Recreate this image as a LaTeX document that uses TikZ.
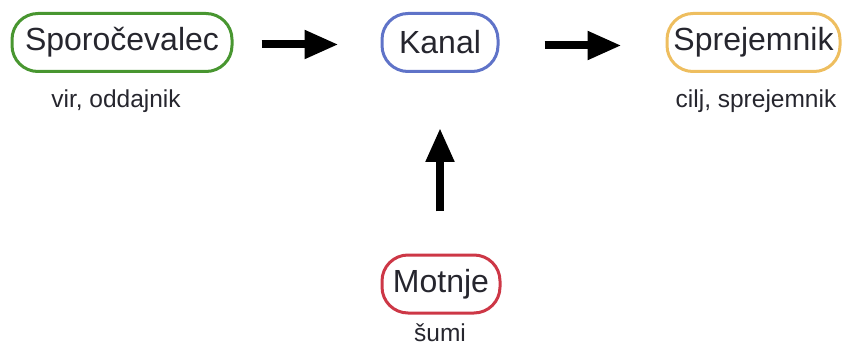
\documentclass[tikz,border=0pt]{standalone}
\usepackage{fontspec}
\setmainfont{Liberation Sans}
\usetikzlibrary{arrows.meta}
\definecolor{cgreen}{RGB}{72,150,48}
\definecolor{cblue}{RGB}{95,115,200}
\definecolor{cyellow}{RGB}{238,190,95}
\definecolor{cred}{RGB}{205,55,70}
\definecolor{ctext}{RGB}{38,38,46}
\tikzset{
  box/.style={draw, line width=3pt, rounded corners=26pt, inner sep=0pt,
    minimum height=58pt, text=ctext, font=\fontsize{32}{38}\selectfont},
  sub/.style={text=ctext, font=\fontsize{24.5}{29}\selectfont, inner sep=0pt},
  arr/.style={line width=8pt, -{Triangle[length=34pt,width=27pt]}, black}
}
\begin{document}
\begin{tikzpicture}[x=1pt,y=-1pt]
\useasboundingbox (0,0) rectangle (845,347);
\node[box, draw=cgreen, minimum width=220pt] (s) at (122,42.5) {Sporočevalec};
\node[box, draw=cblue, minimum width=116pt] (k) at (440,42.5) {Kanal};
\node[box, draw=cyellow, minimum width=173pt] (r) at (753.5,42.5) {Sprejemnik};
\node[box, draw=cred, minimum width=118pt] (m) at (441,284) {Motnje};
\node[sub] (sl) at (116,101) {vir, oddajnik};
\node[sub] (rl) at (756,101) {cilj, sprejemnik};
\node[sub] (ml) at (440,333) {šumi};
\draw[arr, shorten <=28pt, shorten >=42pt] ([yshift=-2pt]s.east) -- ([yshift=-2pt]k.west);
\draw[arr, shorten <=45pt, shorten >=44pt] ([yshift=-3pt]k.east) -- ([yshift=-3pt]r.west);
\draw[arr, shorten <=42pt, shorten >=55pt] ([xshift=-1pt]m.north) -- (k.south);
\end{tikzpicture}
\end{document}
